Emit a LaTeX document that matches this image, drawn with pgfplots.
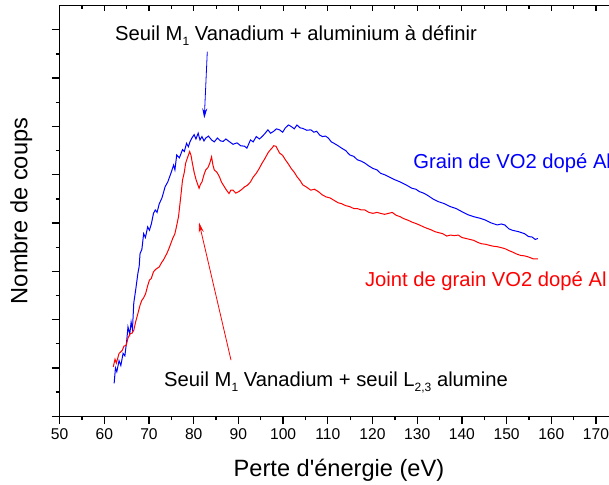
\documentclass[border=0pt]{standalone}
\usepackage{fontspec}
\setmainfont{Liberation Sans}
\usepackage{pgfplots}
\pgfplotsset{compat=1.18}
\usetikzlibrary{arrows.meta}
\definecolor{pblue}{RGB}{0,0,255}
\definecolor{pred}{RGB}{255,0,0}
\newcommand{\sub}[1]{\raisebox{-0.45ex}{\fontsize{12}{12}\selectfont #1}}
\begin{document}
\begin{tikzpicture}
\begin{axis}[
  at={(0,0)}, anchor=south west,
  scale only axis, width=558.75pt, height=410.5pt,
  xmin=50, xmax=175, ymin=0, ymax=8.5,
  xtick={50,60,...,170}, minor x tick num=1,
  ytick={0,1,...,8}, minor y tick num=1, yticklabels={},
  xtick pos=bottom, ytick pos=left,
  tick align=outside,
  major tick length=8pt, minor tick length=4pt,
  axis line style={line width=1.4pt},
  every tick/.style={line width=1.3pt, black},
  /pgf/number format/assume math mode=true,
  xticklabel style={font=\fontsize{15.6}{18}\selectfont, yshift=-1pt},
  xlabel={Perte d\textquotesingle énergie (eV)},
  ylabel={Nombre de coups},
  label style={font=\fontsize{23.6}{28}\selectfont},
  xlabel style={at={(axis description cs:0.5,-0.1315)}, anchor=center},
  ylabel style={at={(axis description cs:-0.0684,0.5)}, anchor=center, rotate=0},
  clip=false,
]
\addplot[pblue, line width=1pt] coordinates {
(62.2,0.68) (62.5,1.00) (62.8,0.92) (63.3,1.15) (63.7,1.05) (64.2,1.30) (64.6,1.25) (65.0,1.55) (65.3,1.85) (65.7,1.70) (66.0,1.95) (66.3,1.80) (66.6,2.35) (67.0,2.60) (67.5,2.95) (67.8,3.10) (68.0,3.37) (68.4,3.45) (68.8,3.78) (69.2,3.70) (69.7,3.92) (70.1,3.85) (70.55,3.99) (71.0,4.20) (71.4,4.27) (71.8,4.22) (72.3,4.40) (72.9,4.52) (73.6,4.75) (74.2,4.85) (74.9,5.03) (75.5,5.20) (75.8,5.10) (76.2,5.41) (76.8,5.35) (77.5,5.52) (77.9,5.48) (78.4,5.65) (78.8,5.58) (79.2,5.69) (79.6,5.76) (80.1,5.83) (80.5,5.74) (81.0,5.86) (81.4,5.72) (81.85,5.79) (82.3,5.70) (82.7,5.76) (83.3,5.80) (84.0,5.72) (84.6,5.68) (85.3,5.76) (86.0,5.70) (86.6,5.69) (87.2,5.74) (87.9,5.69) (88.8,5.63) (89.7,5.66) (90.5,5.60) (91.4,5.59) (91.9,5.55) (92.7,5.72) (93.3,5.68) (94.0,5.79) (94.7,5.74) (95.3,5.79) (95.9,5.85) (96.6,5.93) (97.2,5.86) (97.9,5.90) (98.5,5.95) (99.2,5.93) (99.9,5.88) (100.5,5.97) (101.2,6.03) (101.8,6.00) (102.5,5.95) (103.1,6.03) (103.8,5.97) (104.4,5.96) (105.3,5.92) (106.2,5.93) (106.9,5.88) (107.5,5.90) (108.2,5.82) (108.8,5.79) (109.5,5.80) (110.1,5.76) (110.8,5.68) (111.4,5.65) (112.3,5.60) (113.1,5.55) (114.0,5.50) (114.9,5.41) (115.8,5.38) (116.6,5.31) (117.5,5.28) (118.3,5.24) (119.2,5.18) (120.1,5.13) (121.0,5.10) (121.8,5.03) (122.7,5.00) (123.6,4.96) (124.9,4.90) (126.2,4.85) (127.5,4.79) (128.8,4.72) (129.7,4.70) (130.5,4.65) (131.4,4.62) (132.2,4.58) (133.5,4.50) (134.8,4.44) (136.1,4.40) (137.4,4.34) (138.7,4.30) (140.1,4.23) (141.4,4.17) (142.7,4.13) (144.0,4.10) (145.3,4.06) (146.6,4.00) (147.9,3.96) (148.8,3.98) (149.6,3.96) (150.5,3.88) (151.3,3.85) (152.7,3.82) (154.0,3.78) (154.9,3.72) (155.7,3.71) (156.4,3.66) (157.0,3.68)
};
\addplot[pred, line width=1pt] coordinates {
(62.0,1.02) (62.4,1.18) (62.7,1.10) (63.3,1.30) (64.0,1.36) (64.4,1.45) (64.9,1.47) (65.3,1.62) (65.8,1.71) (66.2,1.72) (66.6,1.78) (67.0,1.95) (67.5,2.12) (68.0,2.30) (68.4,2.40) (68.8,2.45) (69.25,2.54) (69.7,2.70) (70.1,2.82) (70.5,2.85) (71.0,2.99) (71.6,3.05) (72.3,3.09) (72.8,3.18) (73.2,3.23) (73.6,3.30) (74.0,3.37) (74.5,3.48) (74.9,3.58) (75.3,3.68) (75.8,3.78) (76.2,3.95) (76.6,4.13) (77.1,4.54) (77.5,4.89) (77.9,5.05) (78.2,5.24) (78.6,5.35) (79.1,5.48) (79.4,5.40) (79.7,5.24) (80.1,5.05) (80.55,4.89) (80.9,4.80) (81.2,4.72) (81.5,4.80) (81.85,4.85) (82.3,5.00) (82.7,5.10) (83.2,5.15) (83.6,5.24) (84.0,5.37) (84.3,5.20) (84.6,5.10) (85.2,5.05) (85.75,4.96) (86.2,4.85) (86.6,4.79) (87.2,4.70) (87.9,4.61) (88.3,4.68) (88.8,4.68) (89.4,4.62) (90.1,4.65) (90.8,4.70) (91.4,4.75) (92.0,4.78) (92.7,4.85) (93.3,4.95) (94.0,5.03) (94.6,5.12) (95.3,5.24) (95.9,5.33) (96.6,5.45) (97.0,5.50) (97.5,5.55) (97.9,5.60) (98.4,5.59) (98.8,5.52) (99.2,5.45) (99.9,5.40) (100.5,5.31) (101.2,5.22) (101.8,5.13) (102.5,5.05) (103.1,4.96) (103.8,4.88) (104.4,4.79) (105.3,4.74) (106.2,4.68) (107.0,4.70) (107.9,4.65) (108.8,4.58) (109.65,4.54) (110.5,4.52) (111.4,4.47) (112.3,4.42) (113.1,4.40) (114.0,4.36) (114.9,4.34) (115.8,4.30) (116.6,4.30) (117.5,4.27) (118.3,4.27) (119.2,4.22) (120.1,4.20) (121.0,4.22) (121.8,4.20) (122.7,4.18) (123.6,4.20) (124.4,4.22) (125.3,4.16) (126.2,4.13) (127.0,4.09) (127.9,4.06) (128.8,4.02) (129.7,3.99) (130.5,3.96) (131.4,3.92) (132.2,3.89) (133.1,3.86) (134.0,3.82) (134.8,3.80) (135.7,3.78) (136.6,3.73) (137.4,3.75) (138.3,3.74) (139.2,3.75) (140.0,3.70) (140.9,3.68) (141.8,3.66) (142.7,3.64) (143.5,3.60) (144.4,3.57) (145.3,3.56) (146.1,3.54) (147.0,3.52) (147.9,3.51) (148.8,3.49) (149.6,3.47) (150.5,3.43) (151.3,3.40) (152.2,3.36) (153.1,3.33) (154.0,3.32) (154.8,3.30) (155.9,3.26) (157.0,3.26)
};
\draw[pblue, line width=0.8pt, -{Stealth[length=10pt,width=5pt]}] (axis cs:83.04,7.55) -- (axis cs:82.37,6.17);
\draw[pred, line width=0.8pt, -{Stealth[length=10pt,width=5pt]}] (axis cs:88.35,1.16) -- (axis cs:81.19,4.01);
\node[anchor=base west, inner sep=0pt, font=\fontsize{20.2}{24}\selectfont] at (axis cs:62.4,7.77) {Seuil M\sub{1} Vanadium + aluminium à définir};
\node[anchor=base west, inner sep=0pt, font=\fontsize{20.2}{24}\selectfont] at (axis cs:73.36,0.61) {Seuil M\sub{1} Vanadium + seuil L\sub{2,3} alumine};
\node[anchor=base west, inner sep=0pt, text=pblue, font=\fontsize{20.2}{24}\selectfont] at (axis cs:129.1,5.13) {Grain de VO2 dopé Al};
\node[anchor=base west, inner sep=0pt, text=pred, font=\fontsize{20.2}{24}\selectfont] at (axis cs:118.3,2.68) {Joint de grain VO2 dopé Al};
\end{axis}
\begin{axis}[
  at={(0,0)}, anchor=south west,
  scale only axis, width=558.75pt, height=410.5pt,
  xmin=50, xmax=175, ymin=0, ymax=8.5,
  xtick={50,60,...,170}, minor x tick num=1,
  ytick=\empty, xticklabels={},
  xtick pos=top, tick align=inside,
  major tick length=5pt, minor tick length=3pt,
  axis line style={line width=1.4pt},
  every tick/.style={line width=1.1pt, black},
]
\end{axis}
\pgfresetboundingbox
\useasboundingbox (-59.6pt,-67.8pt) rectangle (549.4pt,416.2pt);
\end{tikzpicture}
\end{document}
